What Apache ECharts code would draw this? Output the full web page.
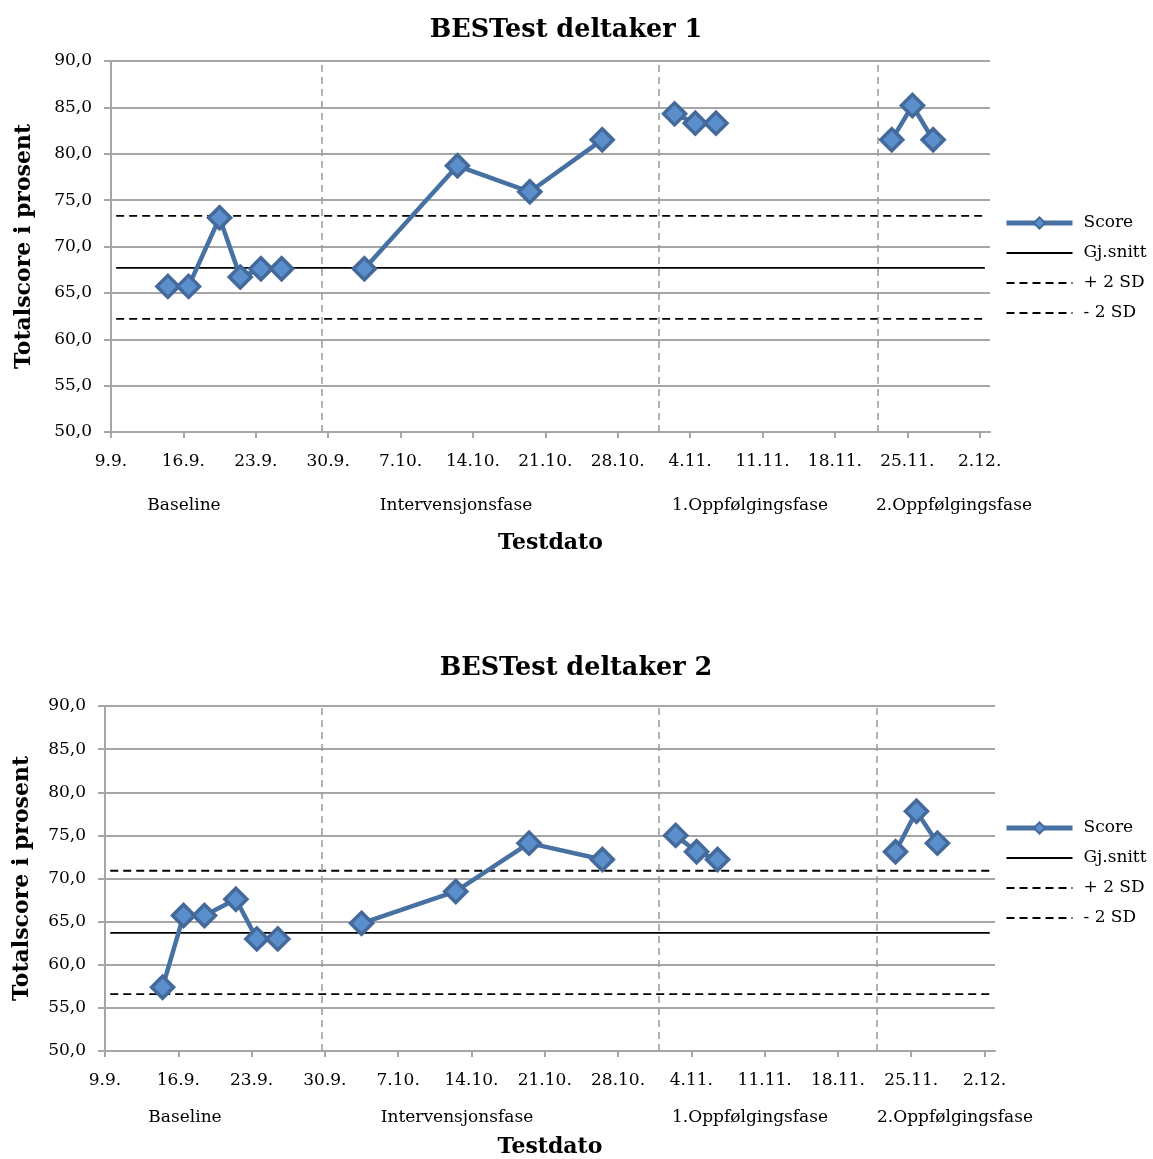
<!DOCTYPE html>
<html><head><meta charset="utf-8">
<script src="https://cdn.jsdelivr.net/npm/echarts@6/dist/echarts.min.js"></script>
<style>html,body{margin:0;padding:0;background:#fff}#c{width:1153px;height:1159px}</style>
</head><body><div id="c"></div>
<script>
// ---------- data ----------
const startDate = '2013-09-09';          // first category on the date axis (9.9.)
const endDate = '2013-12-02';            // last category on the date axis (2.12.)
const tickLabels = ['9.9.','16.9.','23.9.','30.9.','7.10.','14.10.','21.10.','28.10.','4.11.','11.11.','18.11.','25.11.','2.12.'];
const phaseNames = ['Baseline','Intervensjonsfase','1.Oppfølgingsfase','2.Oppfølgingsfase'];
const legendNames = ['Score','Gj.snitt','+ 2 SD','- 2 SD'];

const dates1 = ['2013-09-14','2013-09-16','2013-09-19','2013-09-21','2013-09-23','2013-09-25','2013-10-03','2013-10-12','2013-10-19','2013-10-26','2013-11-02','2013-11-04','2013-11-06','2013-11-23','2013-11-25','2013-11-27'];
const phases1 = [0,0,0,0,0,0,1,1,1,1,2,2,2,3,3,3];
const scores1 = [65.7,65.7,73.1,66.7,67.6,67.6,67.6,78.7,75.9,81.5,84.3,83.3,83.3,81.5,85.2,81.5];
const mean1 = 67.7, plus1 = 73.3, minus1 = 62.2;
const dividers1 = [20.4, 53.0, 74.1];   // phase separators, days after 9.9.

const dates2 = ['2013-09-14','2013-09-16','2013-09-18','2013-09-21','2013-09-23','2013-09-25','2013-10-03','2013-10-12','2013-10-19','2013-10-26','2013-11-02','2013-11-04','2013-11-06','2013-11-23','2013-11-25','2013-11-27'];
const phases2 = [0,0,0,0,0,0,1,1,1,1,2,2,2,3,3,3];
const scores2 = [57.4,65.7,65.7,67.6,63.0,63.0,64.8,68.5,74.1,72.2,75.0,73.1,72.2,73.1,77.8,74.1];
const mean2 = 63.7, plus2 = 70.9, minus2 = 56.6;
const dividers2 = [20.7, 52.9, 73.7];

// ---------- helpers ----------
const FONT = 'DejaVu Serif';
const GRID_COLOR = '#a6a6a6';
const DASH = [8, 5];
function dayOf(d) {
  return Math.round((Date.parse(d + 'T00:00:00Z') - Date.parse(startDate + 'T00:00:00Z')) / 86400000);
}
const axisDays = dayOf(endDate) + 1;          // 85 day categories
const tickDays = tickLabels.map((_, i) => i * 7);

function scoreData(dates, phases, scores) {
  const out = [];
  dates.forEach((d, i) => {
    const x = dayOf(d) + 0.5;   // points sit in the middle of their day
    if (i > 0 && phases[i] !== phases[i - 1]) out.push([x - 0.5, '-']);
    out.push([x, scores[i]]);
  });
  return out;
}
function hLine(v) { return [[dayOf(startDate) + 0.5, v], [dayOf(endDate) + 0.5, v]]; }

const grids = [
  { left: 111, top: 61, width: 879, height: 371 },
  { left: 105, top: 706, width: 890, height: 345 }
];

function xAxis(gi, nameGap) {
  return {
    gridIndex: gi, type: 'value', min: 0, max: axisDays,
    name: 'Testdato', nameLocation: 'middle', nameGap: nameGap,
    nameTextStyle: { fontFamily: FONT, fontSize: 22, fontWeight: 'bold', color: '#000' },
    axisLine: { show: true, onZero: false, lineStyle: { color: GRID_COLOR, width: 2 } },
    axisTick: { show: true, customValues: tickDays, length: 6, lineStyle: { color: GRID_COLOR, width: 2 } },
    axisLabel: { customValues: tickDays, formatter: v => tickLabels[Math.round(v / 7)] || '', fontFamily: FONT, fontSize: 17, color: '#000', margin: 21 },
    splitLine: { show: false }
  };
}
function yAxis(gi, nameGap) {
  return {
    gridIndex: gi, type: 'value', min: 50, max: 90, interval: 5,
    name: 'Totalscore i prosent', nameLocation: 'middle', nameGap: nameGap, nameRotate: 90,
    nameTextStyle: { fontFamily: FONT, fontSize: 22, fontWeight: 'bold', color: '#000' },
    axisLine: { show: true, lineStyle: { color: GRID_COLOR, width: 2 } },
    axisTick: { show: true, length: 7, lineStyle: { color: GRID_COLOR, width: 2 } },
    axisLabel: { formatter: v => v.toFixed(1).replace('.', ','), fontFamily: FONT, fontSize: 17, color: '#000', margin: 19 },
    splitLine: { show: true, lineStyle: { color: GRID_COLOR, width: 2 } }
  };
}

function seriesFor(gi, dates, phases, scores, mean, plus, minus, dividers) {
  return [
    { name: 'Fase', type: 'line', xAxisIndex: gi, yAxisIndex: gi, data: [], z: 1,
      markLine: { silent: true, symbol: ['none', 'none'], label: { show: false },
        lineStyle: { color: '#999', width: 1.5, type: [7, 5] },
        data: dividers.map(d => ({ xAxis: d })) } },
    { name: 'Gj.snitt', type: 'line', xAxisIndex: gi, yAxisIndex: gi, data: hLine(mean), symbol: 'none', z: 3,
      lineStyle: { color: '#000', width: 1.6, type: 'solid' }, itemStyle: { color: '#000' } },
    { name: '+ 2 SD', type: 'line', xAxisIndex: gi, yAxisIndex: gi, data: hLine(plus), symbol: 'none', z: 3,
      lineStyle: { color: '#000', width: 1.8, type: DASH }, itemStyle: { color: '#000' } },
    { name: '- 2 SD', type: 'line', xAxisIndex: gi, yAxisIndex: gi, data: hLine(minus), symbol: 'none', z: 3,
      lineStyle: { color: '#000', width: 1.8, type: DASH }, itemStyle: { color: '#000' } },
    { name: 'Score', type: 'line', xAxisIndex: gi, yAxisIndex: gi, data: scoreData(dates, phases, scores), z: 5,
      symbol: 'diamond', symbolSize: 22, connectNulls: false,
      lineStyle: { color: '#4671a2', width: 4.5 },
      itemStyle: { color: '#5b8fcb', borderColor: '#44699b', borderWidth: 3.5 } }
  ];
}

function legend(top) {
  return {
    data: [
      { name: 'Score', lineStyle: { width: 5 } },
      { name: 'Gj.snitt', itemStyle: { opacity: 0 } },
      { name: '+ 2 SD', itemStyle: { opacity: 0 } },
      { name: '- 2 SD', itemStyle: { opacity: 0 } }
    ],
    orient: 'vertical', left: 1004, top: top, padding: 0, selectedMode: false,
    itemWidth: 66, itemHeight: 14, itemGap: 10,
    textStyle: { fontFamily: FONT, fontSize: 17, color: '#000', lineHeight: 20, padding: [0, 0, 0, 6] }
  };
}

function phaseTexts(y, xs) {
  return phaseNames.map((t, i) => ({
    type: 'text', x: xs[i], y: y,
    style: { text: t, fontFamily: FONT, fontSize: 17, fill: '#000', textAlign: 'center', textVerticalAlign: 'middle' }
  }));
}

const chart = echarts.init(document.getElementById('c'), null, { renderer: 'canvas' });
chart.setOption({
  backgroundColor: '#fff',
  animation: false,
  title: [
    { text: 'BESTest deltaker 1', left: 561, top: 12, textAlign: 'center',
      textStyle: { fontFamily: FONT, fontSize: 25.5, fontWeight: 'bold', color: '#000' } },
    { text: 'BESTest deltaker 2', left: 571, top: 650, textAlign: 'center',
      textStyle: { fontFamily: FONT, fontSize: 25.5, fontWeight: 'bold', color: '#000' } }
  ],
  legend: [legend(213), legend(818)],
  grid: grids,
  xAxis: [xAxis(0, 100), xAxis(1, 85)],
  yAxis: [yAxis(0, 76), yAxis(1, 72)],
  series: [].concat(
    seriesFor(0, dates1, phases1, scores1, mean1, plus1, minus1, dividers1),
    seriesFor(1, dates2, phases2, scores2, mean2, plus2, minus2, dividers2)
  ),
  graphic: [].concat(
    phaseTexts(506, [184, 456, 750, 954]),
    phaseTexts(1118, [185, 457, 750, 955])
  )
});
</script>
</body></html>
